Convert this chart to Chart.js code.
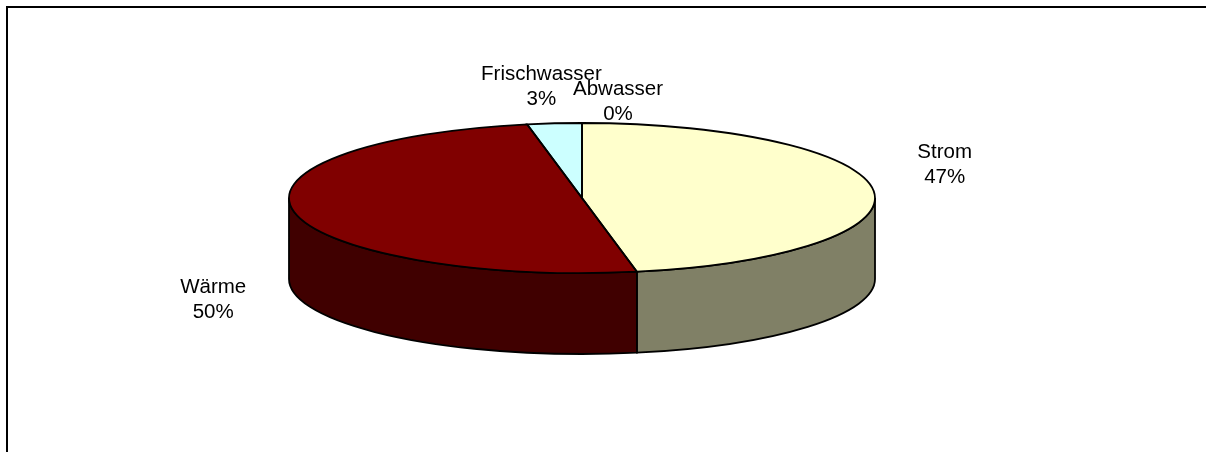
<!DOCTYPE html>
<html>
<head>
<meta charset="utf-8">
<script src="https://cdn.jsdelivr.net/npm/chart.js@4/dist/chart.umd.min.js"></script>
<style>
  html, body { margin: 0; padding: 0; background: #fff; }
  canvas { display: block; }
</style>
</head>
<body>
<canvas id="myChart" width="1206" height="452"></canvas>
<script>
const categories = ['Strom', 'Wärme', 'Frischwasser', 'Abwasser'];
const shares = [47, 50, 3, 0];

const topColors = ['#FFFFCC', '#800000', '#CCFFFF', '#993366'];
const sideColors = ['#808066', '#400000', '#668080', '#4C1933'];

// ellipse geometry of the 3d pie on screen
const CX = 582, CY = 198, RX = 293, RY = 75, DEPTH = 81;
// where each label block sits relative to its slice midpoint on the rim
const labelOffsets = [[71, -27], [-81, 87], [-13, -37], [36, -22]];

function frontRanges(a0, a1) {
  var out = [];
  for (let k = -1; k <= 1; k++) {
    var base = k * 2 * Math.PI;
    var s = Math.max(a0, base), e = Math.min(a1, base + Math.PI);
    if (e > s) out.push([s - base, e - base]);
  }
  return out;
}

const pie3d = {
  id: 'pie3d',
  beforeDraw(chart) {
    const ctx = chart.ctx;
    ctx.save();
    ctx.strokeStyle = '#000';
    ctx.lineWidth = 2;
    ctx.beginPath();
    ctx.moveTo(7, 460);
    ctx.lineTo(7, 7);
    ctx.lineTo(1210, 7);
    ctx.stroke();
    ctx.restore();
  },
  beforeDatasetsDraw(chart) {
    const ctx = chart.ctx;
    const arcs = chart.getDatasetMeta(0).data;
    arcs.forEach((arc, i) => {
      frontRanges(arc.startAngle, arc.endAngle).forEach(([s, e]) => {
        ctx.beginPath();
        ctx.ellipse(CX, CY, RX, RY, 0, s, e, false);
        ctx.lineTo(CX + RX * Math.cos(e), CY + DEPTH + RY * Math.sin(e));
        ctx.ellipse(CX, CY + DEPTH, RX, RY, 0, e, s, true);
        ctx.closePath();
        ctx.fillStyle = sideColors[i];
        ctx.fill();
        ctx.lineWidth = 1.8;
        ctx.strokeStyle = '#000';
        ctx.stroke();
      });
    });
    const a = arcs[0];
    ctx.save();
    ctx.translate(CX, CY);
    ctx.scale(RX / a.outerRadius, RY / a.outerRadius);
    ctx.translate(-a.x, -a.y);
  },
  afterDatasetsDraw(chart) {
    const ctx = chart.ctx;
    ctx.restore();
    const arcs = chart.getDatasetMeta(0).data;
    const total = shares.reduce((p, v) => p + v, 0);
    ctx.lineWidth = 1.8;
    ctx.strokeStyle = '#000';
    arcs.forEach((arc) => {
      if (arc.endAngle - arc.startAngle <= 0) return;
      ctx.beginPath();
      ctx.moveTo(CX, CY);
      ctx.ellipse(CX, CY, RX, RY, 0, arc.startAngle, arc.endAngle, false);
      ctx.closePath();
      ctx.stroke();
    });
    ctx.font = '20.5px Arial, "Liberation Sans", sans-serif';
    ctx.fillStyle = '#000';
    ctx.textAlign = 'center';
    ctx.textBaseline = 'middle';
    arcs.forEach((arc, i) => {
      var mid = (arc.startAngle + arc.endAngle) / 2;
      var x = CX + RX * Math.cos(mid) + labelOffsets[i][0];
      var y = CY + RY * Math.sin(mid) + labelOffsets[i][1];
      ctx.fillText(categories[i], x, y - 12);
      ctx.fillText(Math.round(shares[i] / total * 100) + '%', x, y + 13);
    });
  }
};

const ctx = document.getElementById('myChart');
const myChart = new Chart(ctx, {
  type: 'pie',
  data: {
    labels: categories,
    datasets: [{
      data: shares,
      backgroundColor: topColors,
      borderWidth: 0,
      clip: false
    }]
  },
  options: {
    responsive: false,
    devicePixelRatio: 1,
    animation: false,
    events: [],
    plugins: { legend: { display: false }, tooltip: { enabled: false } }
  },
  plugins: [pie3d]
});
</script>
</body>
</html>
